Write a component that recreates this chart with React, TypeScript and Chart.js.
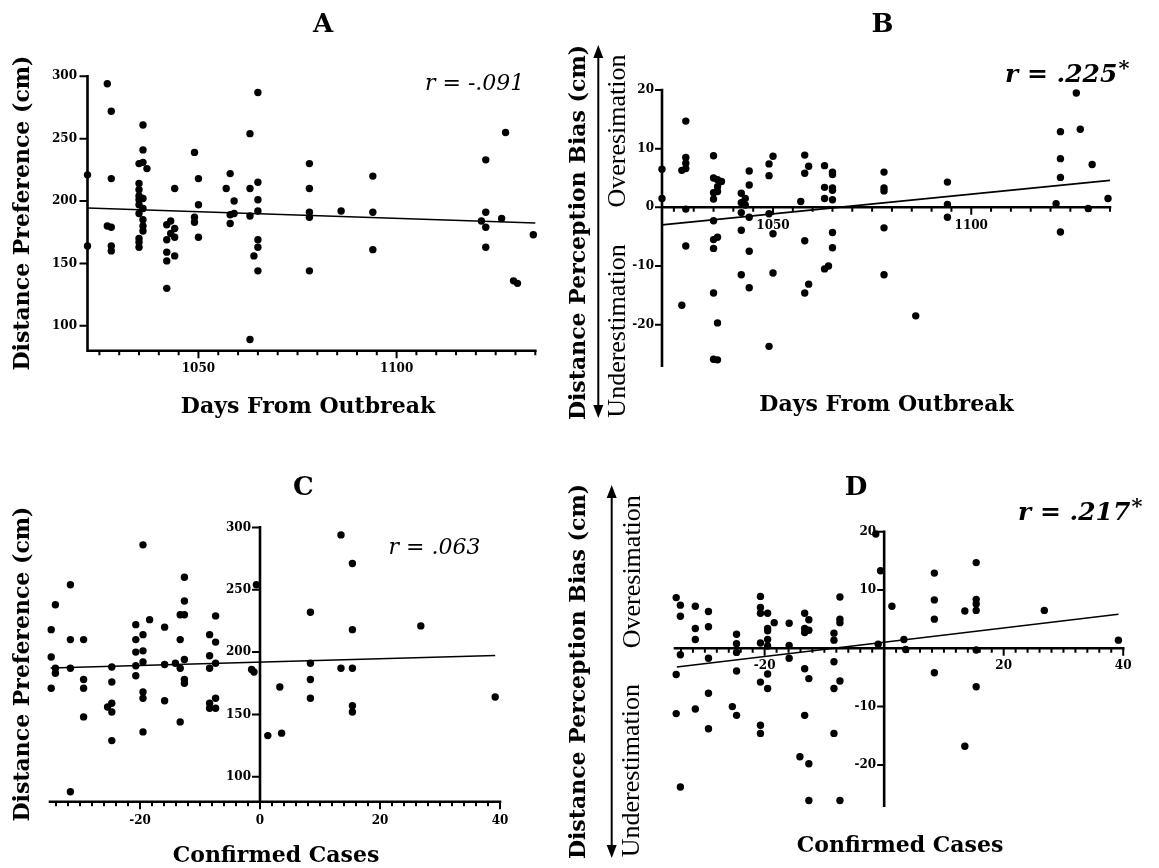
import React, { useEffect, useRef } from "react";
import { Chart, registerables } from "chart.js";

Chart.register(...registerables);

const W = 1159;
const H = 868;

// ---------------- Panel A: Days From Outbreak vs Distance Preference ----------------
const daysA = [
  1022, 1022, 1027, 1028, 1028, 1027, 1028, 1028, 1028,
  1036, 1036, 1035, 1036, 1037, 1035, 1035, 1035, 1035, 1036, 1035, 1036, 1035, 1036, 1036, 1036, 1035, 1035, 1035,
  1042, 1043, 1042, 1044, 1044, 1043, 1044, 1042, 1042, 1044, 1042,
  1049, 1050, 1050, 1049, 1049, 1050,
  1057, 1058, 1059, 1058, 1059, 1058,
  1063, 1063, 1065, 1065, 1065, 1065, 1063, 1065, 1065, 1064, 1065, 1063,
  1078, 1078, 1078, 1078, 1078,
  1086, 1094, 1094, 1094,
  1121.4, 1122.5, 1122.5, 1122.5, 1122.5, 1126.5, 1127.5, 1129.5, 1130.5, 1134.5,
];
const prefA = [
  221, 164, 294, 272, 218, 180, 179, 164, 160,
  261, 241, 230, 231, 226, 214, 209, 204, 201, 202, 197, 194, 190, 185, 180, 176, 170, 167, 163,
  181, 184, 169, 210, 178, 174, 171, 159, 152, 156, 130,
  239, 218, 197, 187, 183, 171,
  210, 222, 200, 189, 190, 182,
  254, 210, 287, 215, 201, 192, 188, 169, 163, 156, 144, 89,
  230, 210, 191, 187, 144,
  192, 220, 191, 161,
  184, 233, 191, 179, 163, 186, 255, 136, 134, 173,
];
const fitDaysA = [1022, 1135];
const fitPrefA = [194.4, 182.4];

// ---------------- Panel B: Days From Outbreak vs Distance Perception Bias ----------------
const daysB = [
  1022, 1022,
  1027, 1027,
  1028, 1028, 1028, 1028, 1028, 1028,
  1035, 1035, 1035, 1035, 1035, 1035, 1035, 1035, 1035,
  1036, 1036, 1036, 1036, 1036, 1036,
  1037,
  1042, 1042, 1042, 1042, 1042,
  1043, 1043,
  1044, 1044, 1044, 1044, 1044,
  1049, 1049, 1049, 1049,
  1050, 1050, 1050,
  1057,
  1058, 1058, 1058, 1058,
  1059, 1059,
  1063, 1063, 1063, 1063,
  1064,
  1065, 1065, 1065, 1065, 1065, 1065, 1065,
  1078, 1078, 1078, 1078, 1078,
  1086,
  1094, 1094, 1094,
  1121.4,
  1122.5, 1122.5, 1122.5, 1122.5,
  1126.5, 1127.5, 1129.5, 1130.5, 1134.5,
];
const biasB = [
  6.5, 1.5,
  6.3, -16.7,
  14.7, 8.5, 7.5, 6.6, -0.3, -6.6,
  8.8, 5.0, 2.5, 1.4, -2.3, -5.5, -7.0, -14.6, -25.9,
  4.7, 3.5, 2.7, -5.1, -19.7, -26.0,
  4.4,
  2.4, 0.8, -0.9, -3.9, -11.5,
  1.5, 0.4,
  6.2, 3.8, -1.7, -7.5, -13.7,
  7.4, 5.4, -1.1, -23.7,
  8.7, -4.5, -11.2,
  1.0,
  8.9, 5.8, -5.7, -14.6,
  7.0, -13.1,
  7.1, 3.4, 1.5, -10.5,
  -10.0,
  6.0, 5.6, 3.3, 2.9, 1.3, -4.3, -6.9,
  6.0, 3.3, 2.8, -3.5, -11.5,
  -18.5,
  4.3, 0.5, -1.7,
  0.6,
  12.9, 8.3, 5.1, -4.2,
  19.5, 13.3, -0.2, 7.3, 1.5,
];
const fitDaysB = [1022, 1135];
const fitBiasB = [-3.0, 4.6];

// ---------------- Panel C: Confirmed Cases vs Distance Preference ----------------
const casesC = [
  -34.8, -34.8, -34.8,
  -34.1, -34.1, -34.1,
  -31.6, -31.6, -31.6, -31.6,
  -29.4, -29.4, -29.4, -29.4,
  -25.4,
  -24.7, -24.7, -24.7, -24.7, -24.7,
  -20.7, -20.7, -20.7, -20.7, -20.7,
  -19.5, -19.5, -19.5, -19.5, -19.5, -19.5, -19.5,
  -18.4,
  -15.9, -15.9, -15.9,
  -14.1,
  -13.3, -13.3, -13.3, -13.3,
  -12.6, -12.6, -12.6, -12.6, -12.6, -12.6,
  -8.4, -8.4, -8.4, -8.4, -8.4,
  -7.4, -7.4, -7.4, -7.4, -7.4,
  -1.4, -1.0, -0.6, 1.3, 3.3, 3.6,
  8.4, 8.4, 8.4, 8.4,
  13.5, 13.5,
  15.4, 15.4, 15.4, 15.4, 15.4,
  26.8, 39.2,
];
const prefC = [
  218, 196, 171,
  238, 187, 183,
  254, 210, 187, 88,
  210, 178, 171, 148,
  156,
  188, 176, 159, 152, 129,
  222, 210, 200, 189, 181,
  286, 214, 201, 192, 168, 163, 136,
  226,
  220, 190, 161,
  191,
  230, 210, 187, 144,
  260, 241, 230, 194, 178, 175,
  214, 197, 187, 159, 155,
  229, 208, 191, 163, 155,
  186, 184, 254, 133, 172, 135,
  232, 191, 178, 163,
  294, 187,
  271, 218, 187, 157, 152,
  221, 164,
];
const fitCasesC = [-34.9, 39.2];
const fitPrefC = [187.2, 197.3];

// ---------------- Panel D: Confirmed Cases vs Distance Perception Bias ----------------
const casesD = [
  -34.8, -34.8, -34.8,
  -34.1, -34.1, -34.1, -34.1,
  -31.6, -31.6, -31.6, -31.6,
  -29.4, -29.4, -29.4, -29.4, -29.4,
  -25.4,
  -24.7, -24.7, -24.7, -24.7, -24.7,
  -20.7, -20.7, -20.7, -20.7, -20.7, -20.7, -20.7,
  -19.5, -19.5, -19.5, -19.5, -19.5, -19.5, -19.5,
  -18.4,
  -15.9, -15.9, -15.9,
  -14.1,
  -13.3, -13.3, -13.3, -13.3, -13.3,
  -12.6, -12.6, -12.6, -12.6, -12.6,
  -8.4, -8.4, -8.4, -8.4, -8.4,
  -7.4, -7.4, -7.4, -7.4, -7.4,
  -1.4, -1.0, -0.6, 1.3, 3.3, 3.6,
  8.4, 8.4, 8.4, 8.4,
  13.5, 13.5,
  15.4, 15.4, 15.4, 15.4, 15.4, 15.4,
  26.8, 39.2,
];
const biasD = [
  8.7, -4.5, -11.2,
  7.4, 5.5, -1.1, -23.8,
  7.2, 3.4, 1.5, -10.4,
  6.3, 3.7, -1.7, -7.7, -13.8,
  -10.0,
  2.4, 0.8, -0.7, -3.9, -11.5,
  8.9, 7.0, 6.0, 0.9, -5.8, -13.2, -14.6,
  6.0, 3.4, 3.0, 1.5, 0.4, -4.4, -6.9,
  4.4,
  4.3, 0.5, -1.7,
  -18.6,
  6.0, 3.4, 2.7, -3.5, -11.5,
  4.9, 3.1, -5.2, -19.8, -26.1,
  2.6, 1.4, -2.3, -6.9, -14.6,
  8.8, 5.0, 4.4, -5.6, -26.1,
  19.6, 0.7, 13.3, 7.2, 1.5, -0.2,
  12.9, 8.3, 5.0, -4.2,
  6.4, -16.8,
  14.7, 8.4, 7.6, 6.5, -0.3, -6.6,
  6.5, 1.4,
];
const fitCasesD = [-34.7, 39.2];
const fitBiasD = [-3.2, 5.85];

// ---------------- ticks ----------------
const dayTicks = [1025, 1030, 1035, 1040, 1045, 1050, 1055, 1060, 1065, 1070, 1075, 1080, 1085, 1090, 1095, 1100, 1105, 1110, 1115, 1120, 1125, 1130, 1135];
const dayTickLabels = [1050, 1100];
const caseTicks = [-34, -32, -30, -28, -26, -24, -22, -20, -18, -16, -14, -12, -10, -8, -6, -4, -2, 0, 2, 4, 6, 8, 10, 12, 14, 16, 18, 20, 22, 24, 26, 28, 30, 32, 34, 36, 38, 40];
const caseTickLabelsC = [-20, 0, 20, 40];
const caseTickLabelsD = [-20, 20, 40];
const caseMajorTicks = [-20, 0, 20, 40];
const prefTicks = [100, 150, 200, 250, 300];
const biasTicksB = [20, 10, 0, -10, -20];
const biasTicksD = [20, 10, -10, -20];

// ---------------- styling ----------------
const SERIF = '"DejaVu Serif", "Liberation Serif", serif';
const TIMES = '"Liberation Serif", "DejaVu Serif", serif';
const fTitle = `bold 26px ${SERIF}`;
const fAxis = `bold 22px ${SERIF}`;
const fTick = `bold 12px ${SERIF}`;
const fDir = `26px ${TIMES}`;
const fR = `italic 22px ${SERIF}`;
const fRb = `italic bold 25px ${SERIF}`;
const fSup = `italic bold 21px ${SERIF}`;

type TextItem = { t: string; x: number; y: number; font: string; align?: CanvasTextAlign; rot?: boolean; sup?: string };
type Arrow = { x: number; y0: number; y1: number };
type Spec = {
  id: string;
  xs: number[]; ys: number[]; fitX: number[]; fitY: number[];
  xMin: number; xMax: number; yMin: number; yMax: number;
  area: { left: number; top: number; right: number; bottom: number };
  xAxisAt: number; yAxisAt: number;
  xTicks: number[]; xMajor: number[]; xLabels: number[];
  yTicks: number[]; yLabels: number[];
  yTickLen: number; yLabelOff: number; xLabelOff: number;
  texts: TextItem[]; arrow?: Arrow;
};

const panels: Spec[] = [
  {
    id: "A", xs: daysA, ys: prefA, fitX: fitDaysA, fitY: fitPrefA,
    xMin: 1022, xMax: 1135, yMin: 80, yMax: 300,
    area: { left: 87.5, top: 76.3, right: 535.3, bottom: 350.7 },
    xAxisAt: 80, yAxisAt: 1022,
    xTicks: dayTicks, xMajor: dayTickLabels, xLabels: dayTickLabels,
    yTicks: prefTicks, yLabels: prefTicks, yTickLen: 8, yLabelOff: 10.5, xLabelOff: 18.5,
    texts: [
      { t: "A", x: 323, y: 25, font: fTitle },
      { t: "Distance Preference (cm)", x: 23.5, y: 213, font: fAxis, rot: true },
      { t: "Days From Outbreak", x: 308, y: 407, font: fAxis },
      { t: "r = -.091", x: 425, y: 84, font: fR, align: "left" },
    ],
  },
  {
    id: "B", xs: daysB, ys: biasB, fitX: fitDaysB, fitY: fitBiasB,
    xMin: 1022, xMax: 1135, yMin: -27, yMax: 20,
    area: { left: 662, top: 90, right: 1110, bottom: 365.7 },
    xAxisAt: 0, yAxisAt: 1022,
    xTicks: dayTicks, xMajor: dayTickLabels, xLabels: dayTickLabels,
    yTicks: biasTicksB, yLabels: biasTicksB, yTickLen: 7, yLabelOff: 8, xLabelOff: 18.5,
    texts: [
      { t: "B", x: 882.6, y: 25, font: fTitle },
      { t: "Distance Perception Bias (cm)", x: 579, y: 232.5, font: fAxis, rot: true },
      { t: "Overesimation", x: 618.5, y: 131, font: fDir, rot: true },
      { t: "Underestimation", x: 618, y: 331, font: fDir, rot: true },
      { t: "Days From Outbreak", x: 886.5, y: 405, font: fAxis },
      { t: "r = .225", x: 1005, y: 75, font: fRb, align: "left", sup: "*" },
    ],
    arrow: { x: 598.3, y0: 45, y1: 418 },
  },
  {
    id: "C", xs: casesC, ys: prefC, fitX: fitCasesC, fitY: fitPrefC,
    xMin: -35, xMax: 40, yMin: 80, yMax: 300,
    area: { left: 50, top: 527.4, right: 500, bottom: 801.7 },
    xAxisAt: 80, yAxisAt: 0,
    xTicks: caseTicks, xMajor: caseMajorTicks, xLabels: caseTickLabelsC,
    yTicks: prefTicks, yLabels: prefTicks, yTickLen: 8, yLabelOff: 9, xLabelOff: 19,
    texts: [
      { t: "C", x: 303.4, y: 488.3, font: fTitle },
      { t: "Distance Preference (cm)", x: 23.5, y: 664, font: fAxis, rot: true },
      { t: "Confirmed Cases", x: 276, y: 856, font: fAxis },
      { t: "r = .063", x: 388.5, y: 548, font: fR, align: "left" },
    ],
  },
  {
    id: "D", xs: casesD, ys: biasD, fitX: fitCasesD, fitY: fitBiasD,
    xMin: -35, xMax: 40, yMin: -27, yMax: 20,
    area: { left: 675, top: 531.7, right: 1123.2, bottom: 805.7 },
    xAxisAt: 0, yAxisAt: 0,
    xTicks: caseTicks, xMajor: caseMajorTicks, xLabels: caseTickLabelsD,
    yTicks: biasTicksD, yLabels: biasTicksD, yTickLen: 7, yLabelOff: 8, xLabelOff: 17.5,
    texts: [
      { t: "D", x: 856, y: 488.3, font: fTitle },
      { t: "Distance Perception Bias (cm)", x: 579, y: 671.5, font: fAxis, rot: true },
      { t: "Overesimation", x: 633.5, y: 571.7, font: fDir, rot: true },
      { t: "Underestimation", x: 632.5, y: 770.7, font: fDir, rot: true },
      { t: "Confirmed Cases", x: 900, y: 846.7, font: fAxis },
      { t: "r = .217", x: 1018, y: 513, font: fRb, align: "left", sup: "*" },
    ],
    arrow: { x: 611.7, y0: 485, y1: 858 },
  },
];

function decorPlugin(p: Spec) {
  return {
    id: "decor" + p.id,
    beforeDatasetsDraw(chart: any) {
      const ctx: CanvasRenderingContext2D = chart.ctx;
      const sx = chart.scales.x;
      const sy = chart.scales.y;
      const axY = sy.getPixelForValue(p.xAxisAt);
      const axX = sx.getPixelForValue(p.yAxisAt);
      const x0 = sx.getPixelForValue(p.xMin);
      const x1 = sx.getPixelForValue(p.xMax);
      const yTop = sy.getPixelForValue(p.yMax);
      const yBot = sy.getPixelForValue(p.yMin);
      ctx.save();
      ctx.strokeStyle = "#000";
      ctx.lineWidth = 2.6;
      ctx.lineCap = "square";
      ctx.beginPath();
      ctx.moveTo(x0, axY);
      ctx.lineTo(x1, axY);
      ctx.moveTo(axX, yTop);
      ctx.lineTo(axX, yBot);
      ctx.stroke();
      ctx.lineCap = "butt";
      ctx.lineWidth = 2;
      ctx.beginPath();
      for (const v of p.xTicks) {
        const px = sx.getPixelForValue(v);
        const len = p.xMajor.includes(v) ? 7.5 : 4.5;
        ctx.moveTo(px, axY);
        ctx.lineTo(px, axY + len);
      }
      for (const v of p.yTicks) {
        const py = sy.getPixelForValue(v);
        ctx.moveTo(axX - p.yTickLen, py);
        ctx.lineTo(axX, py);
      }
      ctx.stroke();
      ctx.fillStyle = "#000";
      ctx.font = fTick;
      ctx.textBaseline = "middle";
      ctx.textAlign = "center";
      for (const v of p.xLabels) ctx.fillText(String(v), sx.getPixelForValue(v), axY + p.xLabelOff);
      ctx.textAlign = "right";
      for (const v of p.yLabels) ctx.fillText(String(v), axX - p.yLabelOff, sy.getPixelForValue(v));
      ctx.restore();
    },
    afterDraw(chart: any) {
      const ctx: CanvasRenderingContext2D = chart.ctx;
      ctx.save();
      ctx.fillStyle = "#000";
      ctx.strokeStyle = "#000";
      for (const t of p.texts) {
        ctx.font = t.font;
        ctx.textAlign = t.align || "center";
        ctx.textBaseline = "middle";
        if (t.rot) {
          ctx.save();
          ctx.translate(t.x, t.y);
          ctx.rotate(-Math.PI / 2);
          ctx.fillText(t.t, 0, 0);
          ctx.restore();
        } else {
          ctx.fillText(t.t, t.x, t.y);
          if (t.sup) {
            const w = ctx.measureText(t.t).width;
            ctx.font = fSup;
            ctx.textAlign = "left";
            ctx.fillText(t.sup, t.x + w + 1, t.y - 5);
          }
        }
      }
      if (p.arrow) {
        const a = p.arrow;
        const hw = 5;
        const hh = 13;
        ctx.lineWidth = 2;
        ctx.beginPath();
        ctx.moveTo(a.x, a.y0 + hh - 1);
        ctx.lineTo(a.x, a.y1 - hh + 1);
        ctx.stroke();
        ctx.beginPath();
        ctx.moveTo(a.x, a.y0);
        ctx.lineTo(a.x - hw, a.y0 + hh);
        ctx.lineTo(a.x + hw, a.y0 + hh);
        ctx.closePath();
        ctx.fill();
        ctx.beginPath();
        ctx.moveTo(a.x, a.y1);
        ctx.lineTo(a.x - hw, a.y1 - hh);
        ctx.lineTo(a.x + hw, a.y1 - hh);
        ctx.closePath();
        ctx.fill();
      }
      ctx.restore();
    },
  };
}

function buildChart(canvas: HTMLCanvasElement, p: Spec) {
  const pts = p.xs.map((x, i) => ({ x, y: p.ys[i] }));
  const fit = p.fitX.map((x, i) => ({ x, y: p.fitY[i] }));
  return new Chart(canvas, {
    type: "scatter",
    data: {
      datasets: [
        {
          data: pts,
          pointRadius: 3.7,
          pointHoverRadius: 3.7,
          backgroundColor: "#000",
          borderColor: "#000",
          borderWidth: 0,
          clip: false,
        } as any,
        {
          data: fit,
          showLine: true,
          pointRadius: 0,
          pointHoverRadius: 0,
          borderColor: "#000",
          borderWidth: 1.6,
          fill: false,
          clip: false,
        } as any,
      ],
    },
    options: {
      animation: false,
      responsive: false,
      maintainAspectRatio: false,
      events: [],
      layout: {
        padding: {
          left: p.area.left,
          top: p.area.top,
          right: W - p.area.right,
          bottom: H - p.area.bottom,
        },
      },
      plugins: {
        legend: { display: false },
        tooltip: { enabled: false },
        title: { display: false },
      },
      scales: {
        x: { type: "linear", display: false, min: p.xMin, max: p.xMax },
        y: { type: "linear", display: false, min: p.yMin, max: p.yMax },
      },
    } as any,
    plugins: [decorPlugin(p) as any],
  });
}

export default function App() {
  const refs = useRef<(HTMLCanvasElement | null)[]>([]);
  useEffect(() => {
    const charts = panels.map((p, i) => buildChart(refs.current[i] as HTMLCanvasElement, p));
    return () => charts.forEach((c) => c.destroy());
  }, []);
  return (
    <div style={{ position: "absolute", left: 0, top: 0, width: W, height: H, background: "#fff", overflow: "hidden" }}>
      {panels.map((p, i) => (
        <canvas
          key={p.id}
          ref={(el) => { refs.current[i] = el; }}
          width={W}
          height={H}
          style={{ position: "absolute", left: 0, top: 0, width: W, height: H }}
        />
      ))}
    </div>
  );
}
